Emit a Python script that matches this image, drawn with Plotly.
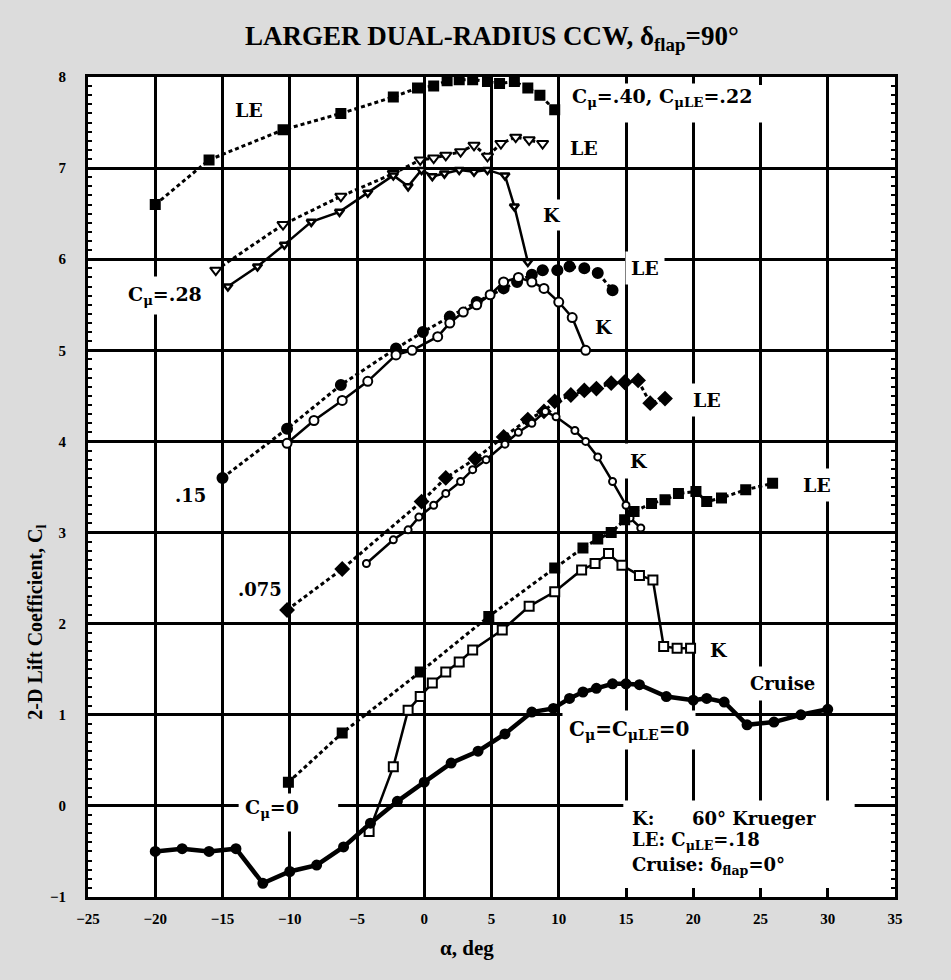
import plotly.graph_objects as go

# ---- Lift data: alpha (deg) vs 2-D lift coefficient ----
# C_mu = .40, C_muLE = .22 (leading-edge blowing)
alpha_le40 = [-20, -16, -10.5, -6.2, -2.3, -0.5, 0.7, 1.7, 2.6, 3.6, 4.7, 5.6, 6.7, 7.7, 8.6, 9.7]
cl_le40 = [6.6, 7.09, 7.42, 7.6, 7.78, 7.88, 7.9, 7.96, 7.97, 7.97, 7.95, 7.93, 7.95, 7.88, 7.8, 7.64]

# C_mu = .28
alpha_le28 = [-15.5, -10.5, -6.2, -2.3, -0.3, 0.7, 1.6, 2.7, 3.7, 4.7, 5.7, 6.8, 7.8, 8.8]
cl_le28 = [5.88, 6.38, 6.69, 6.94, 7.09, 7.11, 7.14, 7.18, 7.25, 7.13, 7.27, 7.34, 7.31, 7.27]
alpha_k28 = [-14.6, -12.4, -10.4, -8.4, -6.3, -4.2, -2.3, -1.2, -0.2, 0.6, 1.5, 2.6, 3.7, 4.7, 6.0, 6.7, 7.7]
cl_k28 = [5.7, 5.92, 6.16, 6.41, 6.52, 6.73, 6.92, 6.80, 6.98, 6.91, 6.94, 6.98, 6.96, 6.98, 6.92, 6.58, 5.97]

# C_mu = .15
alpha_le15 = [-15, -10.2, -6.2, -2.1, -0.1, 1.9, 3.9, 5.9, 6.9, 8.0, 8.8, 9.9, 10.8, 11.9, 12.9, 14.0]
cl_le15 = [3.6, 4.14, 4.62, 5.02, 5.2, 5.37, 5.53, 5.68, 5.75, 5.83, 5.88, 5.88, 5.92, 5.9, 5.85, 5.66]
alpha_k15 = [-10.2, -8.2, -6.1, -4.2, -2.1, -0.9, 1.0, 1.9, 2.9, 3.9, 4.9, 5.9, 7.0, 8.0, 8.9, 10.0, 11.0, 12.0]
cl_k15 = [3.98, 4.23, 4.45, 4.66, 4.95, 5.0, 5.15, 5.3, 5.42, 5.5, 5.61, 5.75, 5.8, 5.75, 5.68, 5.53, 5.36, 5.0]

# C_mu = .075
alpha_le075 = [-10.2, -6.1, -0.2, 1.6, 3.8, 5.9, 7.7, 8.9, 9.7, 10.9, 11.9, 12.8, 13.9, 14.9, 15.9, 16.8, 17.9]
cl_le075 = [2.15, 2.6, 3.34, 3.6, 3.81, 4.05, 4.24, 4.33, 4.44, 4.51, 4.56, 4.58, 4.64, 4.65, 4.67, 4.42, 4.47]
alpha_k075 = [-4.3, -2.3, -1.2, -0.4, 0.7, 1.6, 2.7, 3.6, 4.6, 6.0, 7.0, 8.0, 9.0, 9.8, 11.2, 12.0, 12.9, 14.0, 15.0, 15.3, 16.1]
cl_k075 = [2.66, 2.92, 3.03, 3.17, 3.30, 3.43, 3.56, 3.69, 3.8, 3.97, 4.1, 4.2, 4.33, 4.27, 4.12, 4.0, 3.83, 3.56, 3.30, 3.16, 3.05]

# C_mu = 0
alpha_le0 = [-10.1, -6.1, -0.3, 4.8, 9.7, 11.8, 12.9, 13.9, 14.9, 15.6, 16.9, 17.9, 18.9, 20.2, 21.0, 22.1, 23.9, 25.9]
cl_le0 = [0.26, 0.80, 1.47, 2.08, 2.61, 2.83, 2.93, 3.0, 3.14, 3.23, 3.32, 3.36, 3.43, 3.45, 3.34, 3.38, 3.47, 3.54]
alpha_k0 = [-4.1, -2.3, -1.2, -0.3, 0.6, 1.6, 2.6, 3.6, 5.8, 7.8, 9.7, 11.7, 12.7, 13.7, 14.7, 16.0, 17.0, 17.8, 18.8, 19.8]
cl_k0 = [-0.28, 0.43, 1.05, 1.2, 1.35, 1.47, 1.58, 1.71, 1.93, 2.19, 2.35, 2.59, 2.66, 2.77, 2.64, 2.53, 2.48, 1.75, 1.73, 1.73]

# Cruise configuration, flap at 0 deg
alpha_cruise = [-20, -18, -16, -14, -12, -10, -8, -6, -4, -2, 0, 2, 4, 6, 8, 9.6, 10.8, 11.8, 12.8, 14,
                15, 16, 18, 20, 21, 22.3, 24, 26, 28, 30]
cl_cruise = [-0.5, -0.47, -0.5, -0.47, -0.85, -0.72, -0.65, -0.45, -0.19, 0.05, 0.26, 0.47, 0.6, 0.79, 1.03,
             1.07, 1.18, 1.25, 1.29, 1.34, 1.34, 1.33, 1.2, 1.16, 1.18, 1.14, 0.89, 0.92, 1.0, 1.06]

x_ticks = [-25, -20, -15, -10, -5, 0, 5, 10, 15, 20, 25, 30, 35]
y_ticks = [-1, 0, 1, 2, 3, 4, 5, 6, 7, 8]

SERIF = "Liberation Serif"
WIDE_SERIF = "DejaVu Serif"
DOT = "4px,3px"

fig = go.Figure()


def add(x, y, symbol, size, fill, dash, width, mline=2):
    fig.add_trace(go.Scatter(
        x=x, y=y, mode="lines+markers",
        line=dict(color="black", width=width, dash=dash),
        marker=dict(symbol=symbol, size=size, color=fill,
                    line=dict(color="black", width=mline)),
        showlegend=False, hoverinfo="skip"))


add(alpha_le40, cl_le40, "square", 9, "black", DOT, 3)
add(alpha_le28, cl_le28, "triangle-down", 10, "white", DOT, 3)
add(alpha_k28, cl_k28, "triangle-down", 8, "white", "solid", 2.5, 2.5)
add(alpha_le15, cl_le15, "circle", 10, "black", DOT, 3)
add(alpha_k15, cl_k15, "circle", 9, "white", "solid", 2.5)
add(alpha_le075, cl_le075, "diamond", 10, "black", DOT, 3)
add(alpha_k075, cl_k075, "circle", 7, "white", "solid", 2.5)
add(alpha_le0, cl_le0, "square", 9, "black", DOT, 3)
add(alpha_k0, cl_k0, "square", 9, "white", "solid", 2.5)
add(alpha_cruise, cl_cruise, "circle", 9, "black", "solid", 4.5)

# white patches that interrupt the grid behind the labels
patches = [
    (10.8, 27.0, 7.5, 8.0),
    (14.8, 32.0, -0.9, 0.06),
    (-13.8, -6.4, -0.28, 0.12),
]
for x0, x1, y0, y1 in patches:
    fig.add_shape(type="rect", x0=x0, x1=x1, y0=y0, y1=y1, layer="between",
                  fillcolor="white", line=dict(width=0))


def label(x, y, text, size=19, pad=3, xanchor="center", bg="white"):
    fig.add_annotation(x=x, y=y, text=text, showarrow=False, xanchor=xanchor,
                       font=dict(family=WIDE_SERIF, size=size, color="black", weight="bold"),
                       bgcolor=bg, borderpad=pad)


label(-13.0, 7.64, "LE")
label(10.8, 7.77, "C<sub>μ</sub>=.40, C<sub>μLE</sub>=.22", xanchor="left", pad=1, size=19)
label(11.9, 7.22, "LE", pad=2)
label(9.5, 6.49, "K", pad=4)
label(16.4, 5.9, "LE", pad=5)
label(13.4, 5.26, "K", pad=6)
label(-19.3, 5.6, "C<sub>μ</sub>=.28", pad=6, size=19)
label(-17.4, 3.41, ".15", size=18)
label(-12.2, 2.37, ".075", size=18)
label(21.0, 4.45, "LE", pad=5)
label(16.0, 3.78, "K", pad=6)
label(29.2, 3.52, "LE", pad=5)
label(21.9, 1.71, "K", pad=2)
label(26.6, 1.34, "Cruise", pad=6, size=18)
label(15.2, 0.83, "C<sub>μ</sub>=C<sub>μLE</sub>=0", pad=6, size=20)
label(-11.3, -0.03, "C<sub>μ</sub>=0", pad=2, size=19)
label(15.4, -0.14, "K:&nbsp;&nbsp;&nbsp;&nbsp;&nbsp; 60° Krueger", size=18, pad=0, xanchor="left", bg=None)
label(15.4, -0.39, "LE: C<sub>μLE</sub>=.18", size=18, pad=0, xanchor="left", bg=None)
label(15.4, -0.66, "Cruise: δ<sub>flap</sub>=0°", size=18, pad=0, xanchor="left", bg=None)

# title and axis titles
fig.add_annotation(x=0.5, y=1.048, xref="paper", yref="paper", showarrow=False,
                   xanchor="center", yanchor="middle",
                   text="LARGER DUAL-RADIUS CCW, δ<sub>flap</sub>=90°",
                   font=dict(family=SERIF, size=27, color="black", weight="bold"))
fig.add_annotation(x=0.47, y=-0.062, xref="paper", yref="paper", showarrow=False,
                   xanchor="center", yanchor="middle",
                   text="α, deg", font=dict(family=SERIF, size=21, color="black", weight="bold"))
fig.add_annotation(x=-0.064, y=0.335, xref="paper", yref="paper", showarrow=False, textangle=-90,
                   xanchor="center", yanchor="middle",
                   text="2-D Lift Coefficient, C<sub>l</sub>",
                   font=dict(family=SERIF, size=20, color="black", weight="bold"))

axis_common = dict(
    showgrid=True, gridcolor="black", gridwidth=3,
    showline=True, linecolor="black", linewidth=3, mirror="allticks",
    ticks="inside", ticklen=8, tickwidth=2.5, tickcolor="black",
    zeroline=False,
    tickfont=dict(family=SERIF, size=15, color="black", weight="bold"),
)

fig.update_xaxes(range=[-25, 35], tickvals=x_ticks, ticklabelstandoff=6, **axis_common)
fig.update_yaxes(range=[-1, 8], tickvals=y_ticks, ticklabelstandoff=16,
                 minor=dict(ticks="inside", dtick=0.1, ticklen=4, tickwidth=1.5,
                            tickcolor="black", showgrid=False),
                 **axis_common)

fig.update_layout(
    width=951, height=980,
    margin=dict(l=88, r=56, t=77, b=83),
    paper_bgcolor="#dcdcdc",
    plot_bgcolor="white",
    showlegend=False,
)

fig.write_html("out.html")
